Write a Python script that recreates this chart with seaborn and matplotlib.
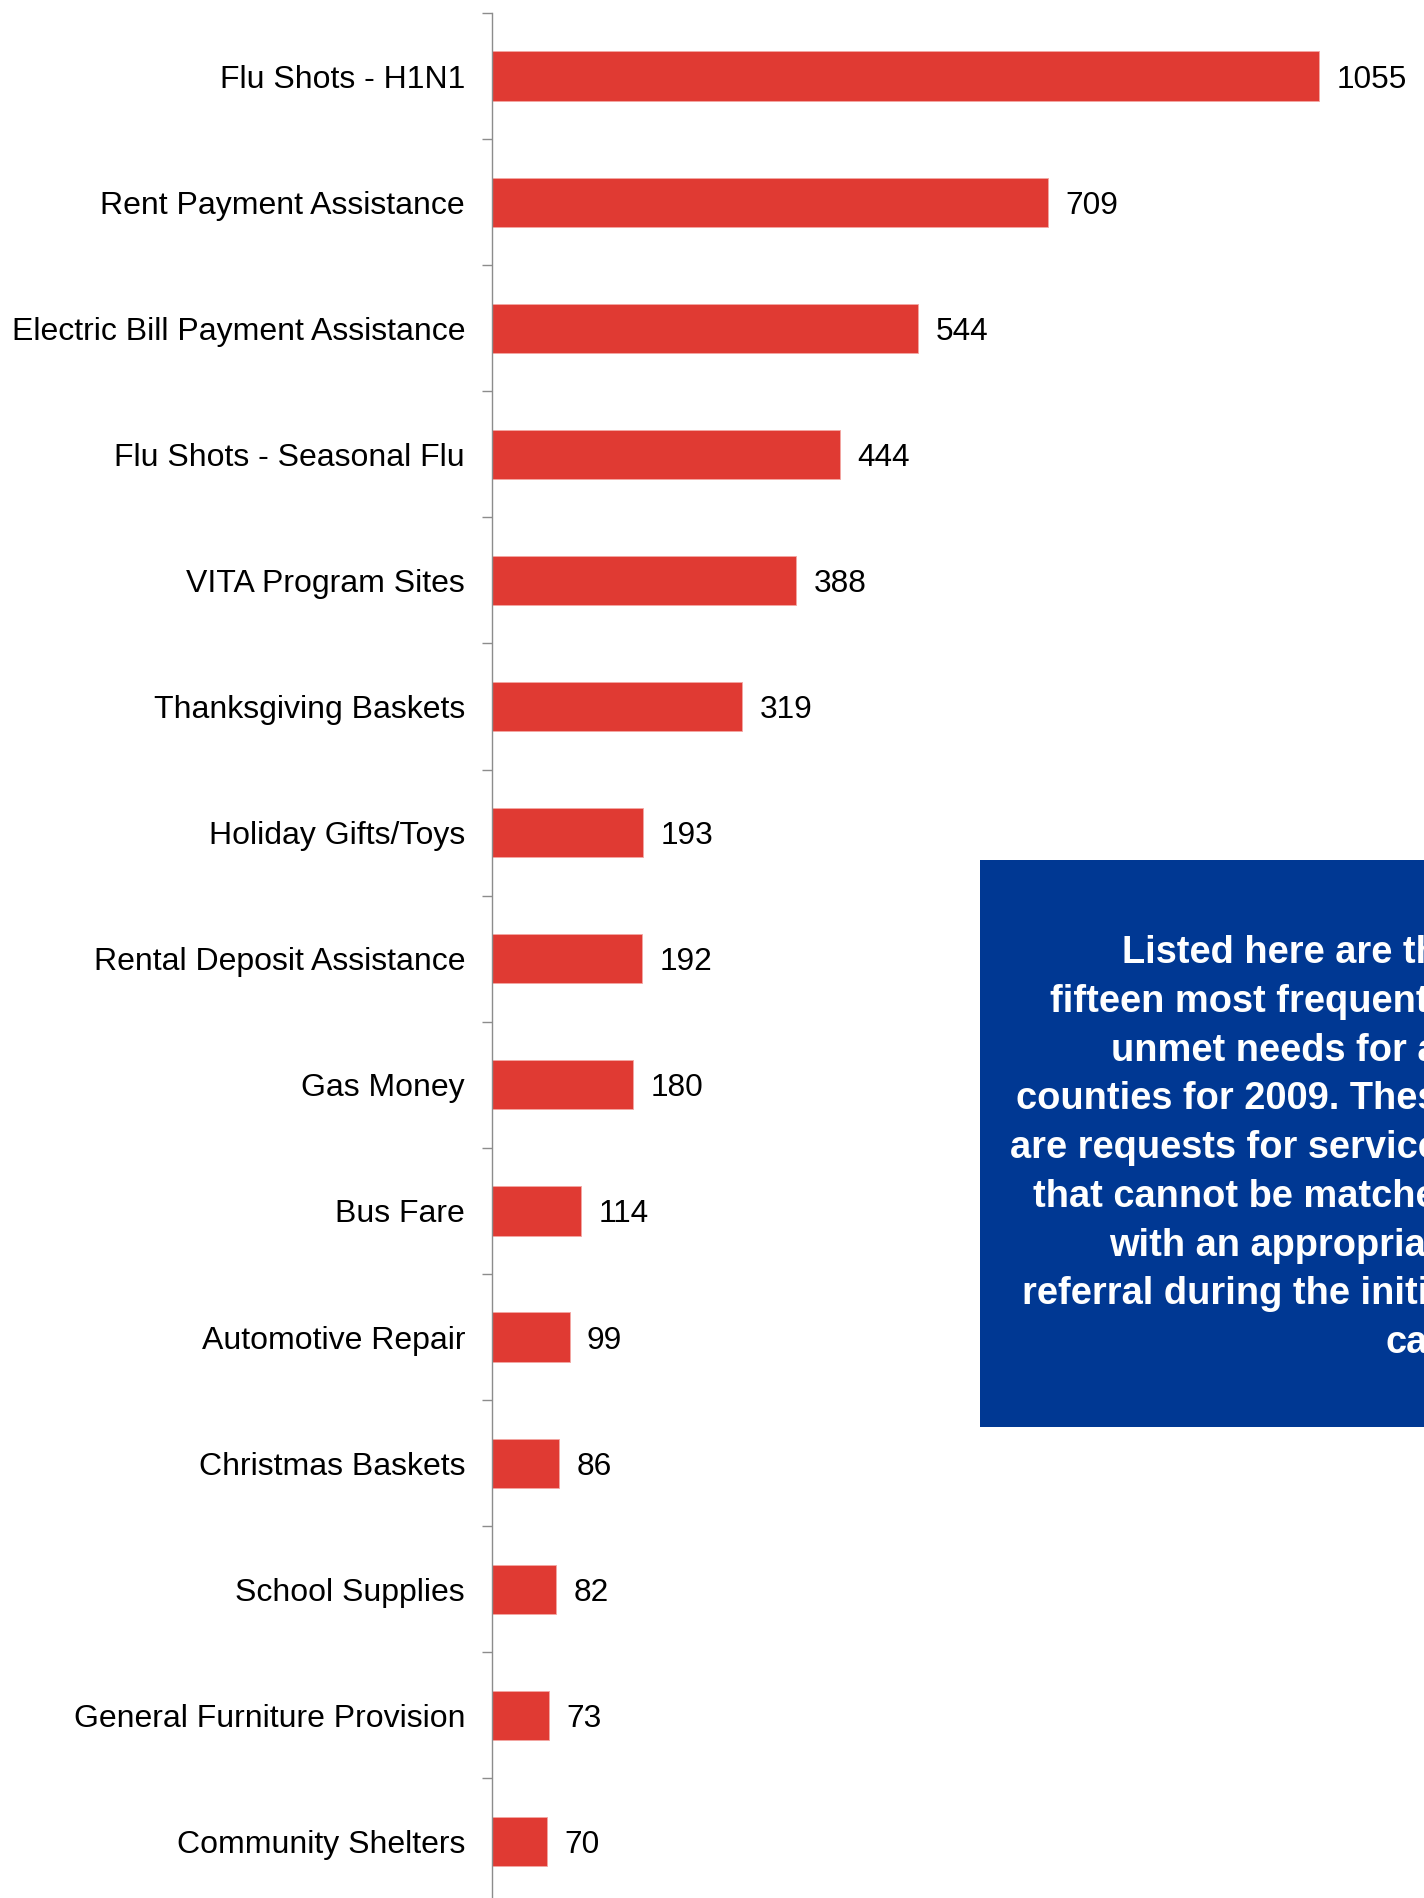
import matplotlib
matplotlib.use('Agg')
import numpy as np
import pandas as pd
import matplotlib.pyplot as plt
import seaborn as sns
from matplotlib.patches import Rectangle

# Unmet needs, 2009
needs = ['Flu Shots - H1N1', 'Rent Payment Assistance', 'Electric Bill Payment Assistance',
         'Flu Shots - Seasonal Flu', 'VITA Program Sites', 'Thanksgiving Baskets',
         'Holiday Gifts/Toys', 'Rental Deposit Assistance', 'Gas Money', 'Bus Fare',
         'Automotive Repair', 'Christmas Baskets', 'School Supplies',
         'General Furniture Provision', 'Community Shelters']
counts = [1055, 709, 544, 444, 388, 319, 193, 192, 180, 114, 99, 86, 82, 73, 70]

note_lines = ['Listed here are the', 'fifteen most frequently', 'unmet needs for all',
              'counties for 2009. These', 'are requests for services',
              'that cannot be matched', 'with an appropriate',
              'referral during the initial', 'call.']

sns.set_theme(style='white')
plt.rcParams['font.family'] = ['Liberation Sans', 'DejaVu Sans']

df = pd.DataFrame({'need': needs, 'count': counts})

W, H = 1424, 1898
fig = plt.figure(figsize=(W / 100, H / 100), dpi=100)
ax = fig.add_axes([492 / W, (H - 1904.5) / H, (W - 492) / W, (1904.5 - 13) / H])

sns.barplot(data=df, x='count', y='need', color='#E03A33', saturation=1,
            width=0.39, edgecolor='#F3A7A3', linewidth=0.6, ax=ax)

ax.set_xlim(0, 1189)
ax.set_ylim(len(needs) - 0.5, -0.5)
ax.set_xlabel('')
ax.set_ylabel('')
ax.set_xticks([])

for s in ['top', 'right', 'bottom']:
    ax.spines[s].set_visible(False)
ax.spines['left'].set_color('#8c8c8c')
ax.spines['left'].set_linewidth(1.0)

ax.tick_params(axis='y', which='major', length=0, pad=19.4, labelsize=23.0, labelcolor='black')
ax.set_yticks(np.arange(-0.5, len(needs), 1), minor=True)
ax.tick_params(axis='y', which='minor', left=True, length=7.2, width=1.0, color='#8c8c8c')

labels = ax.bar_label(ax.containers[0], padding=12.5, fontsize=22.8, color='black')
for t in labels:
    t.set_va('center_baseline')

# blue note box on the right
fig.add_artist(Rectangle((980 / W, 1 - 1426.7 / H), (1500 - 980) / W, (1426.7 - 860) / H,
                         transform=fig.transFigure, facecolor='#003893', edgecolor='none'))
for i, line in enumerate(note_lines):
    fig.text(1460 / W, 1 - (963.3 + i * 48.7) / H, line, ha='right', va='baseline',
             color='white', fontsize=27.4, fontweight='bold')

fig.savefig('out.png', dpi=100)
